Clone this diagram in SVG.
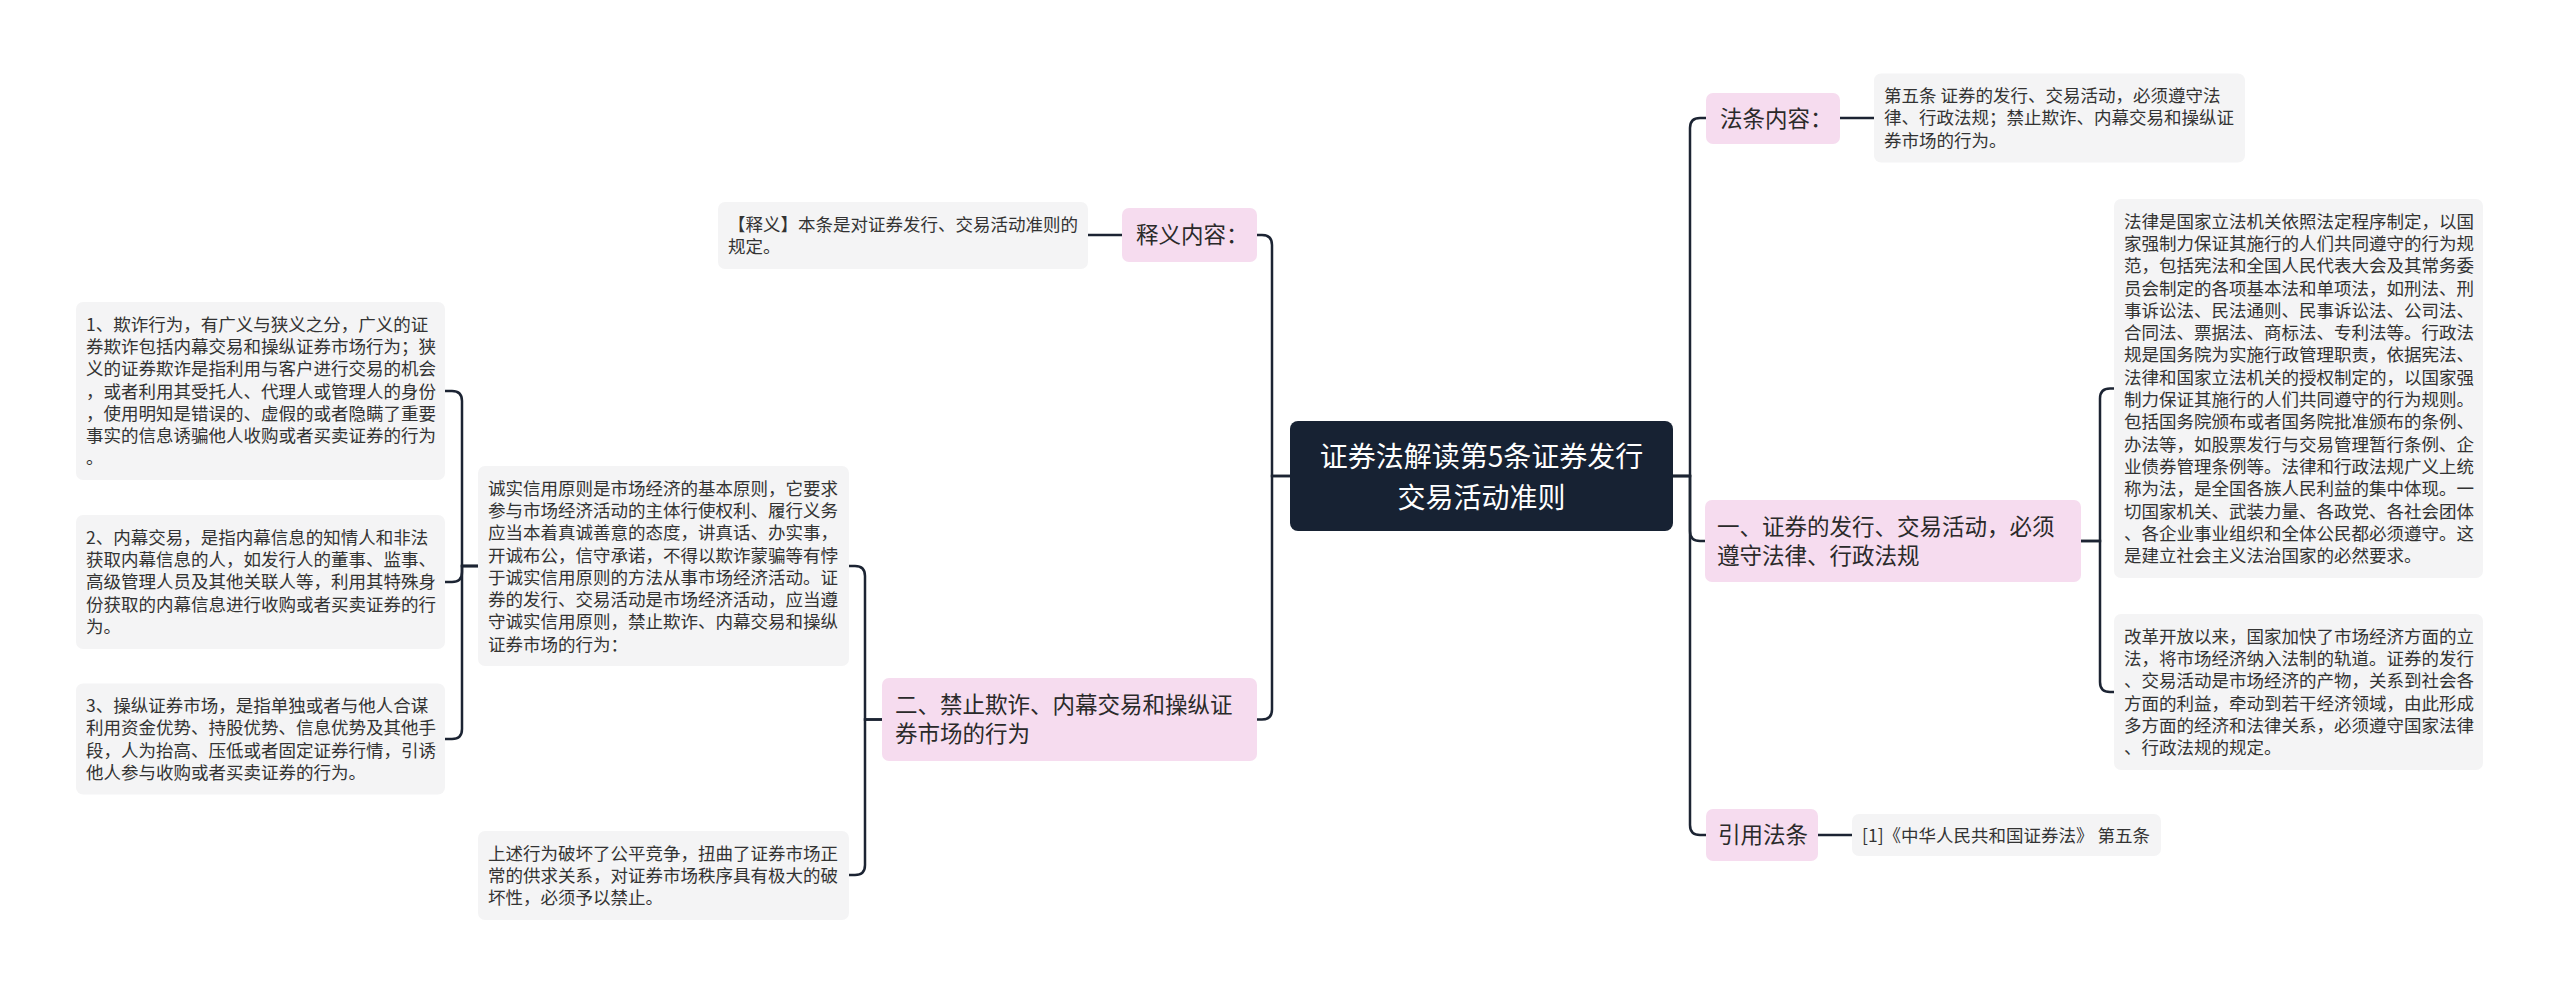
<svg xmlns="http://www.w3.org/2000/svg" width="2560" height="993" viewBox="0 0 2560 993">
<style>
.bg{fill:#ffffff}
.leaf{fill:#f4f4f5}
.pink{fill:#f6dcef}
.root{fill:#172233}
.lt{font-family:"Noto Sans CJK SC","Noto Sans",sans-serif;font-size:17.5px;fill:#333333}
.pt{font-family:"Noto Sans CJK SC","Noto Sans",sans-serif;font-size:22.5px;fill:#2a2a2a}
.rt{font-family:"Noto Sans CJK SC","Noto Sans",sans-serif;font-size:28px;fill:#ffffff;text-anchor:middle}
.conn path{fill:none;stroke:#1c2433;stroke-width:2.5}
</style>
<rect class="bg" x="0" y="0" width="2560" height="993"/>
<g class="conn" id="connectors">
<path d="M1673,476 H1690 V128 Q1690,118 1700,118 H1706"/>
<path d="M1673,476 H1690 V531 Q1690,541 1700,541 H1705"/>
<path d="M1673,476 H1690 V825 Q1690,835 1700,835 H1706"/>
<path d="M1840,118 H1874"/>
<path d="M1818,835 H1852"/>
<path d="M2081,541 H2100 V398.5 Q2100,388.5 2110,388.5 H2114"/>
<path d="M2081,541 H2100 V682 Q2100,692 2110,692 H2114"/>
<path d="M1290,476 H1272 V245 Q1272,235 1262,235 H1257"/>
<path d="M1290,476 H1272 V709.5 Q1272,719.5 1262,719.5 H1257"/>
<path d="M1122,235 H1088"/>
<path d="M882,719.5 H865 V576 Q865,566 855,566 H849"/>
<path d="M882,719.5 H865 V865 Q865,875 855,875 H849"/>
<path d="M478,566 H462 V401 Q462,391 452,391 H445"/>
<path d="M478,566 H462 V572 Q462,582 452,582 H445"/>
<path d="M478,566 H462 V729 Q462,739 452,739 H445"/>
</g>
<g id="root">
<rect class="root" x="1290" y="421" width="383" height="110" rx="8"/>
<text class="rt" x="1481.5" y="467">证券法解读第5条证券发行</text>
<text class="rt" x="1481.5" y="508">交易活动准则</text>
</g>
<g id="n-fatiao">
<rect class="pink" x="1706" y="93" width="134" height="51" rx="7"/>
<text class="pt" x="1720" y="126.5">法条内容：</text>
</g>
<g id="leaf-fatiao">
<rect class="leaf" x="1874" y="73.5" width="371" height="89" rx="7"/>
<text class="lt" x="1884" y="102"><tspan x="1884">第五条 证券的发行、交易活动，必须遵守法</tspan><tspan x="1884" dy="22.3">律、行政法规；禁止欺诈、内幕交易和操纵证</tspan><tspan x="1884" dy="22.3">券市场的行为。</tspan></text>
</g>
<g id="n-yi">
<rect class="pink" x="1705" y="500" width="376" height="82" rx="7"/>
<text class="pt" x="1717" y="535"><tspan x="1717">一、证券的发行、交易活动，必须</tspan><tspan x="1717" dy="29">遵守法律、行政法规</tspan></text>
</g>
<g id="leaf-falv">
<rect class="leaf" x="2114" y="199" width="369" height="379" rx="7"/>
<text class="lt" x="2124" y="227.6"><tspan x="2124">法律是国家立法机关依照法定程序制定，以国</tspan><tspan x="2124" dy="22.3">家强制力保证其施行的人们共同遵守的行为规</tspan><tspan x="2124" dy="22.3">范，包括宪法和全国人民代表大会及其常务委</tspan><tspan x="2124" dy="22.3">员会制定的各项基本法和单项法，如刑法、刑</tspan><tspan x="2124" dy="22.3">事诉讼法、民法通则、民事诉讼法、公司法、</tspan><tspan x="2124" dy="22.3">合同法、票据法、商标法、专利法等。行政法</tspan><tspan x="2124" dy="22.3">规是国务院为实施行政管理职责，依据宪法、</tspan><tspan x="2124" dy="22.3">法律和国家立法机关的授权制定的，以国家强</tspan><tspan x="2124" dy="22.3">制力保证其施行的人们共同遵守的行为规则。</tspan><tspan x="2124" dy="22.3">包括国务院颁布或者国务院批准颁布的条例、</tspan><tspan x="2124" dy="22.3">办法等，如股票发行与交易管理暂行条例、企</tspan><tspan x="2124" dy="22.3">业债券管理条例等。法律和行政法规广义上统</tspan><tspan x="2124" dy="22.3">称为法，是全国各族人民利益的集中体现。一</tspan><tspan x="2124" dy="22.3">切国家机关、武装力量、各政党、各社会团体</tspan><tspan x="2124" dy="22.3">、各企业事业组织和全体公民都必须遵守。这</tspan><tspan x="2124" dy="22.3">是建立社会主义法治国家的必然要求。</tspan></text>
</g>
<g id="leaf-gaige">
<rect class="leaf" x="2114" y="614" width="369" height="156" rx="7"/>
<text class="lt" x="2124" y="642.6"><tspan x="2124">改革开放以来，国家加快了市场经济方面的立</tspan><tspan x="2124" dy="22.3">法，将市场经济纳入法制的轨道。证券的发行</tspan><tspan x="2124" dy="22.3">、交易活动是市场经济的产物，关系到社会各</tspan><tspan x="2124" dy="22.3">方面的利益，牵动到若干经济领域，由此形成</tspan><tspan x="2124" dy="22.3">多方面的经济和法律关系，必须遵守国家法律</tspan><tspan x="2124" dy="22.3">、行政法规的规定。</tspan></text>
</g>
<g id="n-yinyong">
<rect class="pink" x="1706" y="809" width="112" height="52" rx="7"/>
<text class="pt" x="1718" y="843">引用法条</text>
</g>
<g id="leaf-yinyong">
<rect class="leaf" x="1852" y="814" width="309" height="42" rx="7"/>
<text class="lt" x="1862" y="841.5">[1]《中华人民共和国证券法》 第五条</text>
</g>
<g id="n-shiyi">
<rect class="pink" x="1122" y="208" width="135" height="54" rx="7"/>
<text class="pt" x="1136" y="243">释义内容：</text>
</g>
<g id="leaf-shiyi">
<rect class="leaf" x="718" y="202" width="370" height="67" rx="7"/>
<text class="lt" x="728" y="230.6"><tspan x="728">【释义】本条是对证券发行、交易活动准则的</tspan><tspan x="728" dy="22.3">规定。</tspan></text>
</g>
<g id="n-er">
<rect class="pink" x="882" y="678" width="375" height="83" rx="7"/>
<text class="pt" x="895" y="713"><tspan x="895">二、禁止欺诈、内幕交易和操纵证</tspan><tspan x="895" dy="29">券市场的行为</tspan></text>
</g>
<g id="leaf-chengshi">
<rect class="leaf" x="478" y="466" width="371" height="200" rx="7"/>
<text class="lt" x="488" y="494.6"><tspan x="488">诚实信用原则是市场经济的基本原则，它要求</tspan><tspan x="488" dy="22.3">参与市场经济活动的主体行使权利、履行义务</tspan><tspan x="488" dy="22.3">应当本着真诚善意的态度，讲真话、办实事，</tspan><tspan x="488" dy="22.3">开诚布公，信守承诺，不得以欺诈蒙骗等有悖</tspan><tspan x="488" dy="22.3">于诚实信用原则的方法从事市场经济活动。证</tspan><tspan x="488" dy="22.3">券的发行、交易活动是市场经济活动，应当遵</tspan><tspan x="488" dy="22.3">守诚实信用原则，禁止欺诈、内幕交易和操纵</tspan><tspan x="488" dy="22.3">证券市场的行为：</tspan></text>
</g>
<g id="leaf-shangshu">
<rect class="leaf" x="478" y="831" width="371" height="89" rx="7"/>
<text class="lt" x="488" y="859.6"><tspan x="488">上述行为破坏了公平竞争，扭曲了证券市场正</tspan><tspan x="488" dy="22.3">常的供求关系，对证券市场秩序具有极大的破</tspan><tspan x="488" dy="22.3">坏性，必须予以禁止。</tspan></text>
</g>
<g id="leaf-1">
<rect class="leaf" x="76" y="302" width="369" height="178" rx="7"/>
<text class="lt" x="86" y="330.6"><tspan x="86">1、欺诈行为，有广义与狭义之分，广义的证</tspan><tspan x="86" dy="22.3">券欺诈包括内幕交易和操纵证券市场行为；狭</tspan><tspan x="86" dy="22.3">义的证券欺诈是指利用与客户进行交易的机会</tspan><tspan x="86" dy="22.3">，或者利用其受托人、代理人或管理人的身份</tspan><tspan x="86" dy="22.3">，使用明知是错误的、虚假的或者隐瞒了重要</tspan><tspan x="86" dy="22.3">事实的信息诱骗他人收购或者买卖证券的行为</tspan><tspan x="86" dy="22.3">。</tspan></text>
</g>
<g id="leaf-2">
<rect class="leaf" x="76" y="515" width="369" height="134" rx="7"/>
<text class="lt" x="86" y="543.6"><tspan x="86">2、内幕交易，是指内幕信息的知情人和非法</tspan><tspan x="86" dy="22.3">获取内幕信息的人，如发行人的董事、监事、</tspan><tspan x="86" dy="22.3">高级管理人员及其他关联人等，利用其特殊身</tspan><tspan x="86" dy="22.3">份获取的内幕信息进行收购或者买卖证券的行</tspan><tspan x="86" dy="22.3">为。</tspan></text>
</g>
<g id="leaf-3">
<rect class="leaf" x="76" y="683.5" width="369" height="111" rx="7"/>
<text class="lt" x="86" y="712"><tspan x="86">3、操纵证券市场，是指单独或者与他人合谋</tspan><tspan x="86" dy="22.3">利用资金优势、持股优势、信息优势及其他手</tspan><tspan x="86" dy="22.3">段，人为抬高、压低或者固定证券行情，引诱</tspan><tspan x="86" dy="22.3">他人参与收购或者买卖证券的行为。</tspan></text>
</g>
</svg>
